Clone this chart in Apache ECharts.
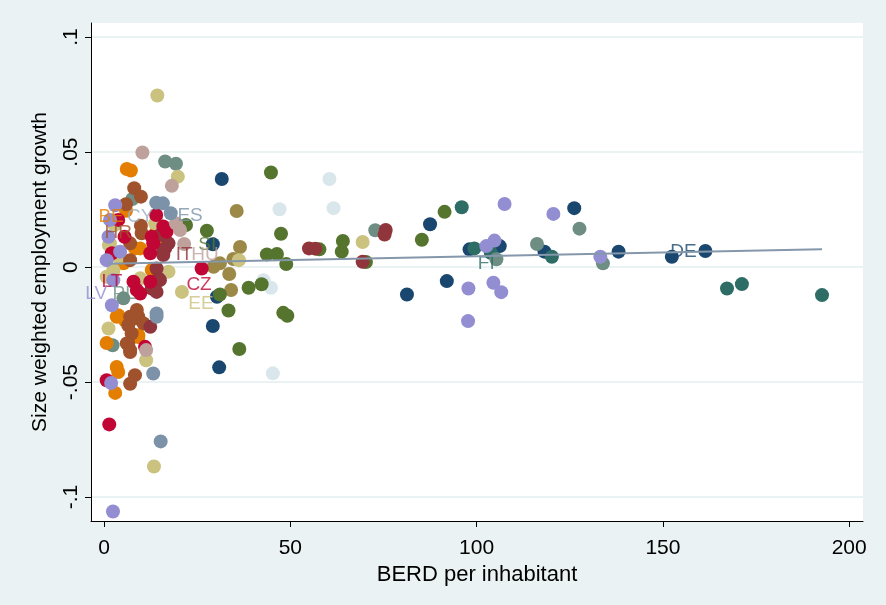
<!DOCTYPE html>
<html><head><meta charset="utf-8">
<script src="https://cdn.jsdelivr.net/npm/echarts@6/dist/echarts.min.js"></script>
<style>html,body{margin:0;padding:0;background:#eaf2f3;}#c{position:absolute;left:0;top:0;width:886px;height:605px;}</style>
</head><body><div id="c"></div><script>
// ---- data ----
const xTicks = [0, 50, 100, 150, 200];
const yTicks = [-0.1, -0.05, 0, 0.05, 0.1];
const yTickLabels = ['-.1', '-.05', '0', '.05', '.1'];

const navyPts = [[31.6,0.0383],[29.2,0.0099],[30.3,-0.0129],[29.2,-0.0256],[30.9,-0.0436],[87.5,0.0186],[98.1,0.0077],[106.2,0.0091],[118.2,0.0067],[126.2,0.0256],[138.1,0.0067],[81.3,-0.0119],[92.0,-0.0061],[152.4,0.0045],[161.4,0.007]];
const maroonPts = [[75.6,0.0161],[75.3,0.0141],[55.0,0.0081],[56.7,0.008],[69.4,0.0023],[15.0,0.0139],[17.3,0.0103],[15.9,0.0074],[14.1,-0.0006],[14.6,-0.0049],[15.0,-0.0057],[12.8,-0.0093],[14.1,-0.0108],[12.4,-0.026],[16.4,0.0081],[15.9,0.0052]];
const forestPts = [[44.8,0.0411],[27.6,0.0158],[22.0,0.0183],[47.5,0.0145],[64.1,0.0113],[63.8,0.0067],[57.8,0.0077],[43.7,0.0055],[46.4,0.0057],[48.9,0.0013],[70.3,0.0022],[42.3,-0.0075],[38.8,-0.009],[31.1,-0.0119],[33.4,-0.0189],[48.1,-0.0199],[49.2,-0.0212],[36.3,-0.0356],[85.3,0.0119],[91.4,0.024]];
const orangePts = [[6.1,0.0426],[7.2,0.042],[5.9,0.0245],[14.1,0.0161],[9.7,0.0081],[5.2,0.0016],[12.8,-0.0013],[3.8,-0.0209],[9.2,-0.0296],[0.7,-0.033],[3.4,-0.0434],[9.2,-0.0304],[3.8,-0.0456],[3.0,-0.0547],[8.3,0.0081],[14.1,0.0125],[3.4,-0.0216],[5.6,-0.0231]];
const tealPts = [[16.4,0.0459],[19.3,0.0449],[7.6,0.0296],[72.8,0.016],[127.6,0.0167],[105.3,0.0034],[116.2,0.01],[133.9,0.0016],[5.2,-0.0136],[2.3,-0.034]];
const cranberryPts = [[14.0,0.0226],[15.9,0.0176],[16.8,0.0154],[12.8,0.0132],[5.5,0.0132],[2.1,0.006],[12.4,0.006],[13.2,0.0103],[26.2,-0.0006],[7.9,-0.0064],[12.4,-0.0064],[8.8,-0.01],[9.7,-0.0115],[11.0,-0.0347],[0.7,-0.0492],[1.4,-0.0684],[3.8,0.0205]];
const lavenderPts = [[3.0,0.0269],[1.6,0.0205],[1.2,0.0132],[4.3,0.0067],[0.7,0.003],[2.5,-0.0057],[2.1,-0.0166],[1.9,-0.0504],[2.4,-0.1063],[107.5,0.0274],[120.6,0.0231],[102.6,0.0091],[104.8,0.0115],[133.2,0.0045],[97.8,-0.0093],[104.5,-0.0068],[106.6,-0.0109],[97.7,-0.0235]];
const khakiPts = [[14.3,0.0746],[19.8,0.0393],[2.8,0.0183],[14.1,0.0197],[13.7,0.019],[1.3,0.0096],[2.5,-0.0013],[2.3,-0.0027],[17.3,-0.002],[9.7,-0.0049],[20.9,-0.0108],[0.7,-0.0042],[1.2,-0.0267],[11.3,-0.0405],[13.4,-0.0867],[1.6,0.0103],[3.8,0.0045],[36.2,0.003],[69.4,0.0109]];
const siennaPts = [[8.1,0.0343],[9.9,0.0306],[5.9,0.0273],[9.9,0.018],[10.1,0.0147],[7.0,0.0103],[7.0,0.003],[8.8,-0.0187],[7.0,-0.0216],[9.2,-0.0216],[7.4,-0.0289],[6.5,-0.0332],[7.0,-0.0361],[6.1,-0.0332],[7.0,-0.0369],[8.3,-0.047],[7.0,-0.0507],[6.5,-0.0253],[8.8,-0.0223],[10.6,-0.0245]];
const emidbluePts = [[14.0,0.028],[15.8,0.0277],[17.9,0.0234],[14.1,-0.0202],[14.1,-0.0216],[13.2,-0.0463],[15.2,-0.0758]];
const emeraldPts = [[96.0,0.026],[99.4,0.0081],[103.8,0.0062],[120.2,0.0045],[167.2,-0.0093],[171.2,-0.0074],[192.7,-0.0122]];
const brownPts = [[35.6,0.0244],[36.5,0.0087],[31.1,0.0016],[29.4,0.0001],[34.7,0.0035],[33.6,-0.003],[34.1,-0.01]];
const erosePts = [[10.3,0.0498],[18.2,0.0353],[19.3,0.019],[21.5,0.010],[20.4,0.0161],[11.3,-0.0361]];
const bluishgrayPts = [[60.5,0.0383],[47.1,0.0251],[61.6,0.0256],[42.8,-0.0057],[44.8,-0.009],[45.3,-0.0462]];

const fitLine = [[1.0,0.0014],[192.7,0.0077]];

const labelNames = ['BE','CY','ES','HR','SI','IT','HU','LT','LV','PL','CZ','EE','FI','DE'];
const labelX = [1.9, 9.7, 23.1, 3.8, 27.7, 21.5, 27.1, 2.1, -2.1, 5.4, 25.5, 26.0, 102.6, 155.5];
const labelY = [0.0218, 0.0218, 0.0222, 0.0148, 0.0096, 0.0052, 0.0052, -0.0065, -0.0118, -0.0118, -0.0078, -0.0161, 0.0013, 0.0065];

// ---- styles ----
const C = {navy:'#1a476f', maroon:'#90353b', forest:'#55752f', orange:'#e37e00', teal:'#6e8e84', cranberry:'#c10534', lavender:'#938dd2', khaki:'#cac27e', sienna:'#a0522d', emidblue:'#7b92a8', emerald:'#2d6d66', brown:'#9c8847', erose:'#bfa19c', bluishgray:'#d9e6eb'};
const labelColor = {BE:C.orange, CY:'#9aabbd', ES:C.emidblue, HR:C.sienna, SI:C.forest, IT:C.maroon, HU:C.erose, LT:C.cranberry, LV:C.lavender, PL:C.teal, CZ:C.cranberry, EE:C.khaki, FI:C.emerald, DE:C.navy};
const groups = [
  [bluishgrayPts,C.bluishgray],[navyPts,C.navy],[emeraldPts,C.emerald],[tealPts,C.teal],[brownPts,C.brown],[forestPts,C.forest],
  [orangePts,C.orange],[khakiPts,C.khaki],[siennaPts,C.sienna],[maroonPts,C.maroon],[cranberryPts,C.cranberry],
  [erosePts,C.erose],[emidbluePts,C.emidblue],[lavenderPts,C.lavender]
];
const FONT = '"Liberation Sans", Arial, Helvetica, sans-serif';

const series = [];
groups.forEach(([pts,col])=>{
  series.push({type:'scatter', z:3, symbol:'circle', symbolSize:14, data:pts, itemStyle:{color:col, opacity:1}, silent:true});
});
series.push({
  type:'scatter', z:4, symbolSize:1, itemStyle:{color:'rgba(0,0,0,0)'}, silent:true,
  data: labelNames.map((n,i)=>({value:[labelX[i],labelY[i]], name:n, label:{color:labelColor[n]}})),
  label:{show:true, position:'inside', formatter:p=>p.name, fontSize:19, fontFamily:FONT}
});
series.push({type:'line', z:6, data:fitLine, symbol:'none', lineStyle:{color:'#8497ab', width:2}, silent:true});

const chart = echarts.init(document.getElementById('c'), null, {renderer:'canvas'});
chart.setOption({
  animation:false,
  backgroundColor:'#eaf2f3',
  grid:{left:91, right:23, top:23, bottom:84, show:true, backgroundColor:'#ffffff', borderWidth:0, containLabel:false},
  xAxis:{
    type:'value', min:-3.5, max:203.7,
    axisLine:{show:true, onZero:false, lineStyle:{color:'#000', width:1}},
    axisTick:{show:true, length:6, customValues:xTicks, lineStyle:{color:'#000'}},
    axisLabel:{customValues:xTicks, margin:17, fontSize:21, color:'#000', fontFamily:FONT},
    splitLine:{show:false},
    name:'BERD per inhabitant', nameLocation:'middle', nameGap:38,
    nameTextStyle:{fontSize:22, color:'#000', fontFamily:FONT}
  },
  yAxis:{
    type:'value', min:-0.1104, max:0.1061,
    axisLine:{show:true, onZero:false, lineStyle:{color:'#000', width:1}},
    axisTick:{show:true, length:6, customValues:yTicks, lineStyle:{color:'#000'}},
    axisLabel:{customValues:yTicks, rotate:90, margin:9, fontSize:21, color:'#000', fontFamily:FONT,
      formatter:v=>{const i=yTicks.findIndex(t=>Math.abs(t-v)<1e-9);return i>=0?yTickLabels[i]:'';}},
    splitLine:{show:true, lineStyle:{color:'#eaf2f3', width:2}},
    name:'Size weighted employment growth', nameLocation:'middle', nameGap:40, nameRotate:90,
    nameTextStyle:{fontSize:21, color:'#000', fontFamily:FONT}
  },
  series: series
});
</script></body></html>
